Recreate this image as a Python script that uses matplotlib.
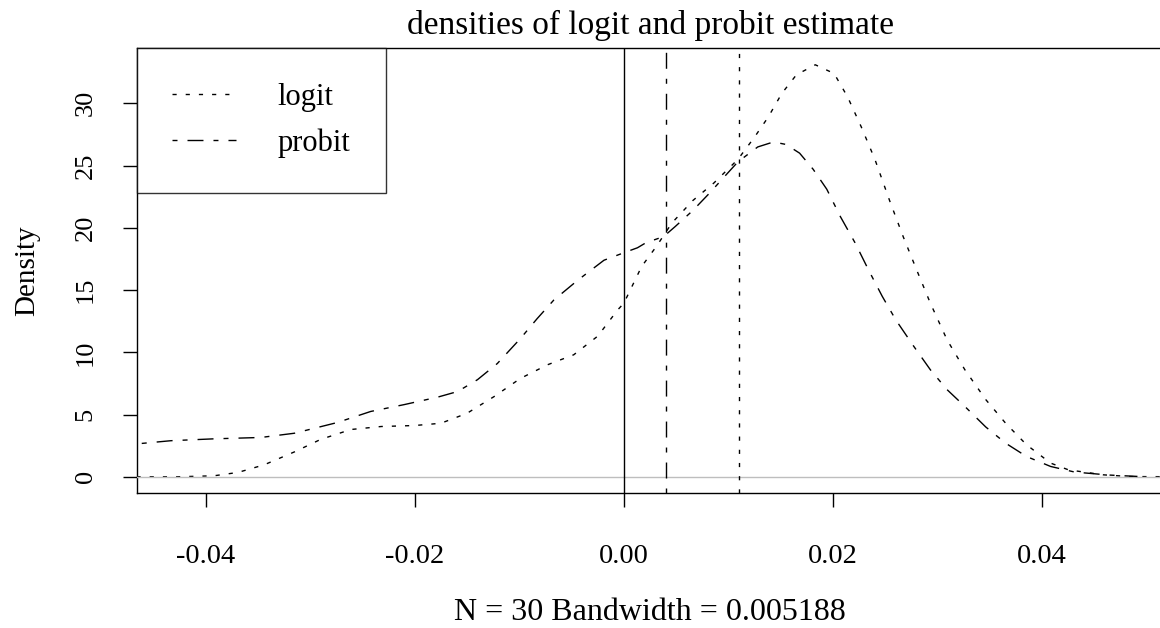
import matplotlib
matplotlib.use("Agg")
import matplotlib.pyplot as plt

plt.rcParams['font.family'] = ['Liberation Serif', 'DejaVu Serif']
plt.rcParams['lines.scale_dashes'] = False

# kernel density estimates of the slope coefficient
logit_x = [-0.0466, -0.0427, -0.0392, -0.0369, -0.0344, -0.0315, -0.0290, -0.0261,
           -0.0232, -0.0200, -0.0175, -0.0150, -0.0124, -0.0099, -0.0073, -0.0048,
           -0.0025, -0.0006, 0.0000, 0.0017, 0.0031, 0.0046, 0.0066, 0.0086,
           0.0109, 0.0125, 0.0138, 0.0151, 0.0165, 0.0183, 0.0201, 0.0214,
           0.0227, 0.0240, 0.0254, 0.0267, 0.0280, 0.0293, 0.0309, 0.0326,
           0.0346, 0.0365, 0.0385, 0.0408, 0.0425, 0.0458, 0.0484, 0.0537]
logit_y = [0.0, 0.0, 0.08, 0.35, 0.96, 2.0, 3.0, 3.8,
           4.04, 4.12, 4.3, 5.1, 6.45, 7.9, 9.0, 9.8,
           11.3, 13.4, 13.95, 16.9, 18.5, 20.4, 22.2, 23.6,
           25.5, 27.3, 28.9, 30.8, 32.3, 33.1, 32.4, 30.5,
           28.1, 25.5, 22.2, 19.3, 16.6, 13.95, 11.0, 8.6,
           6.2, 4.3, 2.57, 1.1, 0.56, 0.16, 0.02, 0.0]

probit_x = [-0.0500, -0.0465, -0.0433, -0.0392, -0.0347, -0.0315, -0.0274, -0.0242,
            -0.0210, -0.0178, -0.0159, -0.0140, -0.0121, -0.0099, -0.0083, -0.0067,
            -0.0044, -0.0019, 0.0000, 0.0013, 0.0021, 0.0038, 0.0049, 0.0066,
            0.0082, 0.0096, 0.0109, 0.0128, 0.0143, 0.0155, 0.0168, 0.0181,
            0.0194, 0.0207, 0.0221, 0.0234, 0.0247, 0.0260, 0.0277, 0.0293,
            0.0309, 0.0326, 0.0346, 0.0365, 0.0385, 0.0408, 0.0431, 0.0464, 0.0491]
probit_y = [2.4, 2.65, 2.9, 3.05, 3.16, 3.5, 4.36, 5.25,
            5.8, 6.4, 6.85, 7.8, 9.1, 11.1, 12.7, 14.2,
            15.8, 17.4, 18.0, 18.4, 18.8, 19.3, 20.1, 21.4,
            22.8, 24.1, 25.3, 26.5, 26.9, 26.7, 26.0, 24.7,
            23.1, 20.9, 18.8, 16.6, 14.5, 12.6, 10.5, 8.6,
            7.0, 5.65, 4.0, 2.7, 1.63, 0.83, 0.38, 0.14, 0.03]

logit_mean = 0.0110
probit_mean = 0.0040
n_obs = 30
bandwidth = 0.005188

x_ticks = [-0.04, -0.02, 0.00, 0.02, 0.04]
x_ticklabels = ['-0.04', '-0.02', '0.00', '0.02', '0.04']
y_ticks = [0, 5, 10, 15, 20, 25, 30]

dotted = (0, (3.0, 6.5))
dotdash = (0, (3.6, 7.2, 11.5, 7.2))

fig = plt.figure(figsize=(11.6, 6.28), dpi=100)
ax = fig.add_axes([0.1181, 0.215, 0.885, 0.7086])

ax.plot(logit_x, logit_y, color='black', lw=1.0, linestyle=dotted, label='logit', zorder=2)
ax.axhline(0, color='#bebebe', lw=1.0, zorder=3)
ax.plot(probit_x, probit_y, color='black', lw=1.0, linestyle=dotdash, label='probit', zorder=4)

ax.axvline(0, color='black', lw=1.0, zorder=4)
ax.axvline(probit_mean, color='black', lw=1.0, linestyle=dotdash, zorder=4)
ax.axvline(logit_mean, color='black', lw=1.0, linestyle=dotted, zorder=4)

ax.set_xlim(-0.04655, 0.0516)
ax.set_ylim(-1.3, 34.45)

ax.set_xticks(x_ticks)
ax.set_xticklabels(x_ticklabels)
ax.set_yticks(y_ticks)
ax.set_yticklabels([str(t) for t in y_ticks], rotation=90, va='center')
ax.tick_params(axis='both', length=10, width=1.0, direction='out')
ax.tick_params(axis='x', pad=26.5, labelsize=20.5)
ax.tick_params(axis='y', pad=19, labelsize=19)

for side in ['left', 'bottom', 'top', 'right']:
    ax.spines[side].set_linewidth(1.0)

ax.set_title('densities of logit and probit estimate', fontsize=24, pad=10)
ax.set_xlabel(f'N = {n_obs} Bandwidth = {bandwidth}', fontsize=23, labelpad=21)
ax.set_ylabel('Density', fontsize=21, labelpad=25)

leg = ax.legend(loc='upper left', bbox_to_anchor=(0, 1), borderaxespad=0,
                fontsize=22, frameon=True, fancybox=False, edgecolor='black',
                handlelength=2.1, handletextpad=1.36, borderpad=1.15, labelspacing=0.52)
leg.get_frame().set_linewidth(1.0)
leg.set_zorder(6)

fig.savefig('out.png', dpi=100)
